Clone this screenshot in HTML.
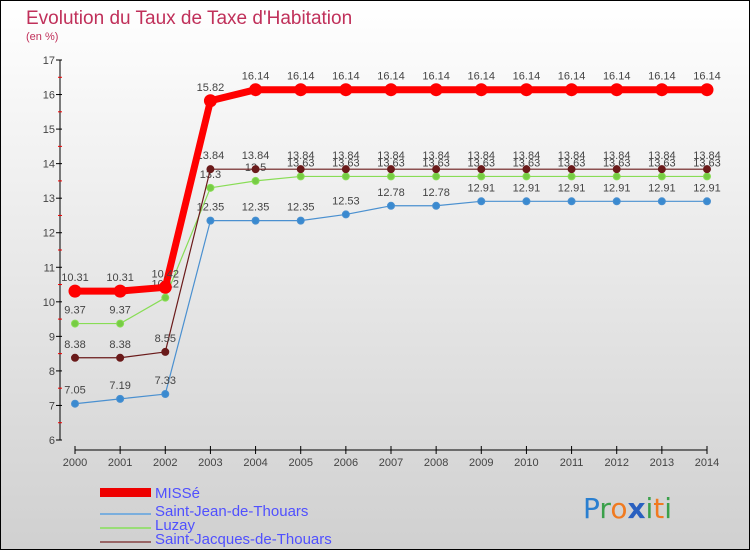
<!DOCTYPE html>
<html><head><meta charset="utf-8"><style>
body{margin:0}
#c{width:750px;height:550px;position:relative;overflow:hidden;font-family:"Liberation Sans",sans-serif}
</style></head><body>
<div id="c">
<svg id="s" width="750" height="550" xmlns="http://www.w3.org/2000/svg">
<defs><linearGradient id="bg" x1="0" y1="0" x2="0" y2="1"><stop offset="0" stop-color="#ffffff"/><stop offset="1" stop-color="#d0d0d0"/></linearGradient></defs>
<rect x="0.5" y="0.5" width="749" height="549" fill="url(#bg)" stroke="#000"/>
<text x="26" y="24" font-size="19" fill="#c0305a">Evolution du Taux de Taxe d'Habitation</text>
<text x="26" y="40" font-size="11" fill="#c0305a">(en %)</text>
<g id="axes"></g><g id="series"></g>
<g font-size="15" fill="#5050ff">
<rect x="100" y="488" width="51" height="9" fill="#e00"/>
<text x="155" y="498">MISSé</text>
<line x1="100" y1="546" x2="151" y2="546" stroke="#7aaedd" stroke-width="2" transform="translate(0,-32)"/>
<text x="155" y="516">Saint-Jean-de-Thouars</text>
<line x1="100" y1="528" x2="151" y2="528" stroke="#99dd77" stroke-width="2" transform="translate(0,0)"/>
<text x="155" y="530">Luzay</text>
<line x1="100" y1="538" x2="151" y2="538" stroke="#996666" stroke-width="2" transform="translate(0,4)"/>
<text x="155" y="544">Saint-Jacques-de-Thouars</text>
</g>
<g font-size="28" font-family="'DejaVu Sans',sans-serif">
<text x="583" y="518"><tspan fill="#2a7fd0">P</tspan><tspan fill="#3aa04a">r</tspan><tspan fill="#f07a20">o</tspan><tspan fill="#2a60c0" font-weight="bold">x</tspan><tspan fill="#3aa04a">i</tspan><tspan fill="#f07a20">t</tspan><tspan fill="#3aa04a">i</tspan></text>
</g>
</svg>
</div>
<script>
const years=[2000,2001,2002,2003,2004,2005,2006,2007,2008,2009,2010,2011,2012,2013,2014];
const misse=[10.31,10.31,10.42,15.82,16.14,16.14,16.14,16.14,16.14,16.14,16.14,16.14,16.14,16.14,16.14];
const stJean=[7.05,7.19,7.33,12.35,12.35,12.35,12.53,12.78,12.78,12.91,12.91,12.91,12.91,12.91,12.91];
const luzay=[9.37,9.37,10.12,13.3,13.5,13.63,13.63,13.63,13.63,13.63,13.63,13.63,13.63,13.63,13.63];
const stJacques=[8.38,8.38,8.55,13.84,13.84,13.84,13.84,13.84,13.84,13.84,13.84,13.84,13.84,13.84,13.84];
const yTicks=[6,7,8,9,10,11,12,13,14,15,16,17];
const NS="http://www.w3.org/2000/svg";
const x=i=>75+i*(707-75)/(years.length-1);
const y=v=>440-(v-6)*(380/11);
function mk(t,a,p){const e=document.createElementNS(NS,t);for(const k in a)e.setAttribute(k,a[k]);p.appendChild(e);return e;}
const ax=document.getElementById('axes');
let l=mk('line',{x1:60,y1:y(17),x2:60,y2:y(6),stroke:'#000'},ax);


l=mk('line',{x1:75,y1:450,x2:707,y2:450,stroke:'#000'},ax);


yTicks.forEach(v=>{mk('line',{x1:56,y1:y(v),x2:62,y2:y(v),stroke:'#000'},ax);
 if(v<17)mk('line',{x1:58,y1:y(v+0.5),x2:62,y2:y(v+0.5),stroke:'#e00'},ax);
 const t=mk('text',{x:55,y:y(v)+4,'font-size':11,fill:'#444','text-anchor':'end'},ax);t.textContent=v;
 
 });
years.forEach((yr,i)=>{mk('line',{x1:x(i),y1:446,x2:x(i),y2:454,stroke:'#000'},ax);
 const t=mk('text',{x:x(i),y:466,'font-size':11,fill:'#444','text-anchor':'middle'},ax);t.textContent=yr;
 
 });
const sg=document.getElementById('series');
function series(name,d,col,w,r,fill,lbl){
 const g=mk('g',{},sg);
 
 
 mk('polyline',{points:d.map((v,i)=>x(i)+','+y(v)).join(' '),fill:'none',stroke:col,'stroke-width':w,'stroke-linejoin':'round'},g);
 d.forEach((v,i)=>{const c=mk('circle',{cx:x(i),cy:y(v),r:r,fill:fill,stroke:col,'stroke-width':1},g);
  
  
  const t=mk('text',{x:x(i),y:y(v)-10,'font-size':11,fill:'#444','text-anchor':'middle'},g);t.textContent=v;});
}
series('series-st-jean',stJean,'#4a90d0',1.2,3.5,'#3a8ad0');
series('series-luzay',luzay,'#88dd55',1.2,3.5,'#77cc44');
series('series-st-jacques',stJacques,'#6a1a1a',1.2,3.5,'#6a1a1a');
series('series-misse',misse,'#ff0000',7,6,'#ff0000');
</script>
</body></html>
